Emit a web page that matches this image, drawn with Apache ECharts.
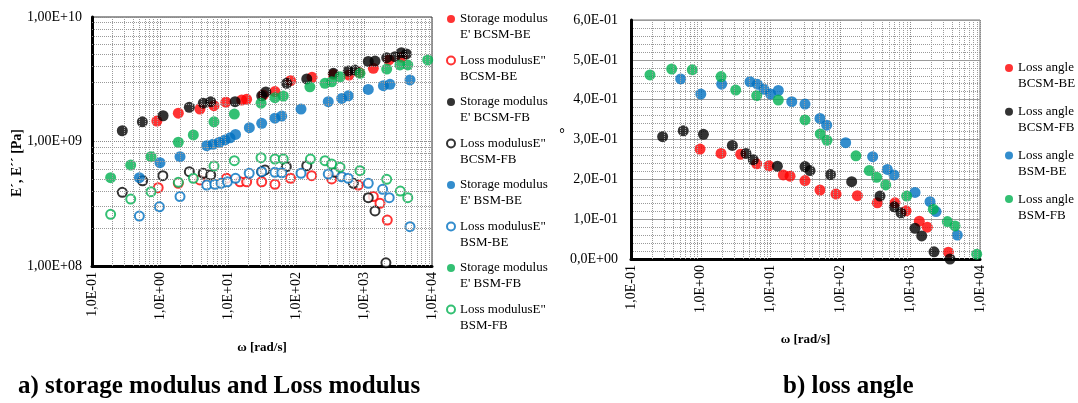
<!DOCTYPE html>
<html>
<head>
<meta charset="utf-8">
<script src="https://cdn.jsdelivr.net/npm/echarts@6/dist/echarts.min.js"></script>
<style>
html,body{margin:0;padding:0;background:#fff}
#main{width:1078px;height:403px}
</style>
</head>
<body>
<div id="main"></div>
<script>
// a) storage / loss modulus  [omega rad/s, E Pa]
var sBCSM_BE = [[0.90,1.46e9],[1.86,1.69e9],[3.87,1.82e9],[6.22,1.94e9],[9.3,2.07e9],[15.9,2.15e9],[18.8,2.18e9],[33,2.36e9],[49,2.52e9],[83,3.08e9],[172,3.28e9],[354,3.46e9],[601,3.42e9],[850,3.59e9],[1371,3.87e9],[2330,4.52e9],[3620,4.76e9]];
var lBCSM_BE = [[0.94,4.26e8],[1.86,4.61e8],[3.87,4.91e8],[9.5,5.06e8],[15,4.75e8],[18.8,4.75e8],[31.3,4.75e8],[49,4.53e8],[83,5.06e8],[170,5.31e8],[335,5.0e8],[824,4.47e8],[1371,3.61e8],[1718,3.19e8],[2200,2.34e8]];
var sBCSM_FB = [[0.279,1.22e9],[0.55,1.44e9],[1.11,1.61e9],[2.70,1.88e9],[4.33,2.03e9],[5.57,2.09e9],[12.7,2.09e9],[31.3,2.33e9],[36,2.50e9],[73,2.93e9],[144,3.18e9],[354,3.53e9],[587,3.68e9],[738,3.75e9],[1156,4.40e9],[1452,4.43e9],[2157,4.71e9],[2858,4.80e9],[3550,5.17e9],[4200,5.05e9]];
var lBCSM_FB = [[0.279,3.91e8],[0.555,4.84e8],[1.10,5.31e8],[2.70,5.72e8],[4.33,5.56e8],[5.57,5.38e8],[31.3,5.72e8],[35,5.91e8],[72,6.28e8],[144,6.39e8],[375,5.66e8],[697,4.61e8],[1156,3.54e8],[1452,2.77e8],[2100,1.06e8]];
var sBSM_BE = [[0.497,5.12e8],[1.0,6.76e8],[1.97,7.55e8],[4.86,9.25e8],[6.0,9.5e8],[7.45,9.86e8],[9.03,1.03e9],[10.7,1.07e9],[12.9,1.14e9],[20.6,1.29e9],[31.3,1.40e9],[49,1.54e9],[61.7,1.60e9],[118.5,1.82e9],[298,2.09e9],[470,2.22e9],[587,2.33e9],[1156,2.62e9],[1930,2.81e9],[2410,2.88e9],[4745,3.12e9]];
var lBSM_BE = [[0.497,2.52e8],[0.98,2.99e8],[1.97,3.61e8],[4.86,4.47e8],[6.4,4.53e8],[7.9,4.61e8],[9.8,4.75e8],[12.9,5.06e8],[20.5,5.56e8],[31.3,5.72e8],[49,5.66e8],[61.7,5.61e8],[118.5,5.56e8],[298,5.48e8],[470,5.21e8],[587,5.06e8],[1156,4.61e8],[1880,4.13e8],[2350,3.54e8],[4745,2.07e8]];
var sBSM_FB = [[0.188,5.12e8],[0.371,6.47e8],[0.738,7.55e8],[1.86,9.86e8],[3.09,1.13e9],[6.22,1.44e9],[12.4,1.66e9],[30.6,2.03e9],[49,2.25e9],[65,2.32e9],[160,2.75e9],[267,2.93e9],[335,3.02e9],[444,3.31e9],[873,3.53e9],[2157,3.82e9],[3381,4.12e9],[4400,4.12e9],[8650,4.52e9]];
var lBSM_FB = [[0.188,2.60e8],[0.371,3.45e8],[0.738,3.95e8],[1.86,4.70e8],[3.09,5.06e8],[6.22,6.35e8],[12.4,7.01e8],[30.6,7.41e8],[49,7.23e8],[65,7.23e8],[163,7.23e8],[267,7.01e8],[335,6.59e8],[444,6.21e8],[873,5.83e8],[2157,4.97e8],[3420,4.0e8],[4400,3.54e8]];

// b) loss angle  [omega rad/s, delta]
var dBCSM_BE = [[0.975,0.276],[1.95,0.265],[3.73,0.263],[6.32,0.239],[9.49,0.234],[15.2,0.211],[19.0,0.208],[31.1,0.197],[51,0.173],[86.5,0.163],[175,0.159],[338,0.141],[606,0.141],[871,0.121],[1350,0.095],[1758,0.080],[3515,0.017]];
var dBCSM_FB = [[0.284,0.307],[0.561,0.322],[1.09,0.313],[2.83,0.285],[4.44,0.265],[5.65,0.249],[12.5,0.233],[31.1,0.232],[36.7,0.222],[72.1,0.212],[145,0.194],[369,0.158],[592,0.131],[738,0.116],[1172,0.077],[1462,0.058],[2193,0.018],[3715,0]];
var dBSM_BE = [[0.515,0.452],[1.0,0.414],[1.99,0.439],[5.07,0.445],[6.45,0.439],[8.04,0.426],[10.0,0.414],[12.9,0.423],[20.1,0.395],[31.1,0.389],[51,0.353],[63.6,0.336],[119,0.292],[290,0.257],[470,0.225],[586,0.211],[1172,0.167],[1923,0.144],[2343,0.119],[4730,0.060]];
var dBSM_FB = [[0.187,0.462],[0.383,0.477],[0.755,0.475],[1.95,0.458],[3.16,0.424],[6.32,0.410],[12.9,0.399],[31.1,0.349],[51.5,0.314],[64.3,0.298],[167,0.259],[259,0.222],[331,0.205],[446,0.186],[891,0.158],[2143,0.125],[3404,0.094],[4385,0.083],[8970,0.012]];

var namesA = ["Storage modulus\nE' BCSM-BE", 'Loss modulusE"\nBCSM-BE', "Storage modulus\nE' BCSM-FB", 'Loss modulusE"\nBCSM-FB',
              "Storage modulus\nE' BSM-BE", 'Loss modulusE"\nBSM-BE', "Storage modulus\nE' BSM-FB", 'Loss modulusE"\nBSM-FB'];
var namesB = ['Loss angle\nBCSM-BE', 'Loss angle\nBCSM-FB', 'Loss angle\nBSM-BE', 'Loss angle\nBSM-FB'];
var RED = '#ff0000', BLACK = '#000000', BLUE = '#0070c0', GREEN = '#00b050';

var FONT = 'Liberation Serif';

function pad2(n){ n = Math.abs(n); return n < 10 ? '0' + n : '' + n; }
function expLabel(v, digits){
    var e = Math.round(Math.log10(v));
    return '1,' + digits + 'E' + (e < 0 ? '-' : '+') + pad2(e);
}
function angleLabel(v){
    if (v === 0) return '0,0E+00';
    return Math.round(v * 10) + ',0E-01';
}
// dotted minor grid lines at 2..9 of each decade
function minorLines(key, d0, d1){
    var arr = [];
    for (var d = d0; d <= d1; d++) {
        for (var k = 2; k <= 9; k++) {
            var o = {}; o[key] = k * Math.pow(10, d); arr.push(o);
        }
    }
    return arr;
}
function gridSeries(xi, lines){
    return {
        type: 'scatter', xAxisIndex: xi, yAxisIndex: xi, data: [], z: 1, silent: true,
        markLine: {
            silent: true, symbol: ['none', 'none'], label: {show: false}, animation: false,
            lineStyle: {type: 'dotted', color: '#9a9a9a', width: 1},
            emphasis: {disabled: true},
            data: lines
        }
    };
}
function dots(name, data, color, hollow, xi){
    return {
        name: name, type: 'scatter', xAxisIndex: xi, yAxisIndex: xi, z: 3,
        symbol: hollow ? 'emptyCircle' : 'circle',
        symbolSize: hollow ? 9 : 11,
        itemStyle: hollow ? {color: color, borderColor: color, borderWidth: 2} : {color: color},
        data: data
    };
}
// blank first line so the marker sits beside the first text line
function legendText(name){ return ' \n' + name; }

var chart = echarts.init(document.getElementById('main'));
chart.setOption({
    animation: false,
    backgroundColor: '#fff',
    title: [
        {text: 'a) storage modulus and Loss modulus', left: 18, top: 374, padding: 0,
         textStyle: {fontFamily: FONT, fontWeight: 'bold', fontSize: 25, color: '#000'}},
        {text: 'b) loss angle', left: 783, top: 374, padding: 0,
         textStyle: {fontFamily: FONT, fontWeight: 'bold', fontSize: 25, color: '#000'}}
    ],
    legend: [
        {data: namesA, orient: 'vertical', left: 446, top: -5, itemGap: -6.5, itemWidth: 8, itemHeight: 8, padding: 0,
         selectedMode: false, formatter: legendText,
         textStyle: {fontFamily: FONT, fontSize: 13, lineHeight: 16, color: '#000'}},
        {data: namesB, orient: 'vertical', left: 1005, top: 44, itemGap: -4.3, itemWidth: 8, itemHeight: 8, padding: 0,
         selectedMode: false, formatter: legendText,
         textStyle: {fontFamily: FONT, fontSize: 13, lineHeight: 16, color: '#000'}}
    ],
    grid: [
        {left: 92, top: 17, width: 340, height: 249, show: true, borderColor: '#333', borderWidth: 1},
        {left: 631, top: 20, width: 349, height: 239, show: true, borderColor: '#777', borderWidth: 1}
    ],
    xAxis: [
        {type: 'log', gridIndex: 0, min: 0.1, max: 1e4, logBase: 10,
         name: 'ω [rad/s]', nameLocation: 'middle', nameGap: 75,
         nameTextStyle: {fontFamily: FONT, fontWeight: 'bold', fontSize: 13, color: '#000'},
         axisLine: {lineStyle: {color: '#000', width: 3}},
         axisTick: {show: false},
         axisLabel: {rotate: 90, margin: 6, fontFamily: FONT, fontSize: 14, color: '#000',
                     formatter: function(v){ return expLabel(v, '0'); }},
         splitLine: {show: true, lineStyle: {type: 'dotted', color: '#8a8a8a'}}},
        {type: 'log', gridIndex: 1, min: 0.1, max: 1e4, logBase: 10,
         name: 'ω [rad/s]', nameLocation: 'middle', nameGap: 74,
         nameTextStyle: {fontFamily: FONT, fontWeight: 'bold', fontSize: 13, color: '#000'},
         axisLine: {lineStyle: {color: '#000', width: 3}},
         axisTick: {show: false},
         axisLabel: {rotate: 90, margin: 6, fontFamily: FONT, fontSize: 14, color: '#000',
                     formatter: function(v){ return expLabel(v, '0'); }},
         splitLine: {show: true, lineStyle: {type: 'dotted', color: '#8a8a8a'}}}
    ],
    yAxis: [
        {type: 'log', gridIndex: 0, min: 1e8, max: 1e10, logBase: 10,
         axisLine: {lineStyle: {color: '#000', width: 3}},
         axisTick: {show: false},
         axisLabel: {margin: 10, fontFamily: FONT, fontSize: 14, color: '#000',
                     formatter: function(v){ return expLabel(v, '00'); }},
         splitLine: {show: true, lineStyle: {type: 'dotted', color: '#8a8a8a'}}},
        {type: 'value', gridIndex: 1, min: 0, max: 0.6, interval: 0.1,
         axisLine: {show: true, lineStyle: {color: '#000', width: 3}},
         axisTick: {show: false},
         axisLabel: {margin: 13, fontFamily: FONT, fontSize: 14, color: '#000', formatter: angleLabel},
         splitLine: {show: true, lineStyle: {type: 'solid', color: '#9a9a9a'}},
         minorTick: {show: false, splitNumber: 5},
         minorSplitLine: {show: true, lineStyle: {type: 'dotted', color: '#9a9a9a'}}}
    ],
    graphic: [
        {type: 'text', x: 17, y: 163, rotation: Math.PI / 2,
         style: {text: 'E´, E´´ [Pa]', fontFamily: FONT, fontWeight: 'bold', fontSize: 14, fill: '#000',
                 align: 'center', verticalAlign: 'middle'}},
        {type: 'text', x: 562, y: 134,
         style: {text: '°', fontFamily: FONT, fontWeight: 'bold', fontSize: 14, fill: '#000',
                 align: 'center', verticalAlign: 'middle'}}
    ],
    series: [
        gridSeries(0, minorLines('xAxis', -1, 3).concat(minorLines('yAxis', 8, 9))),
        gridSeries(1, minorLines('xAxis', -1, 3)),
        dots(namesA[0], sBCSM_BE, RED, false, 0),
        dots(namesA[1], lBCSM_BE, RED, true, 0),
        dots(namesA[2], sBCSM_FB, BLACK, false, 0),
        dots(namesA[3], lBCSM_FB, BLACK, true, 0),
        dots(namesA[4], sBSM_BE, BLUE, false, 0),
        dots(namesA[5], lBSM_BE, BLUE, true, 0),
        dots(namesA[6], sBSM_FB, GREEN, false, 0),
        dots(namesA[7], lBSM_FB, GREEN, true, 0),
        dots(namesB[0], dBCSM_BE, RED, false, 1),
        dots(namesB[1], dBCSM_FB, BLACK, false, 1),
        dots(namesB[2], dBSM_BE, BLUE, false, 1),
        dots(namesB[3], dBSM_FB, GREEN, false, 1)
    ]
});
</script>
</body>
</html>
